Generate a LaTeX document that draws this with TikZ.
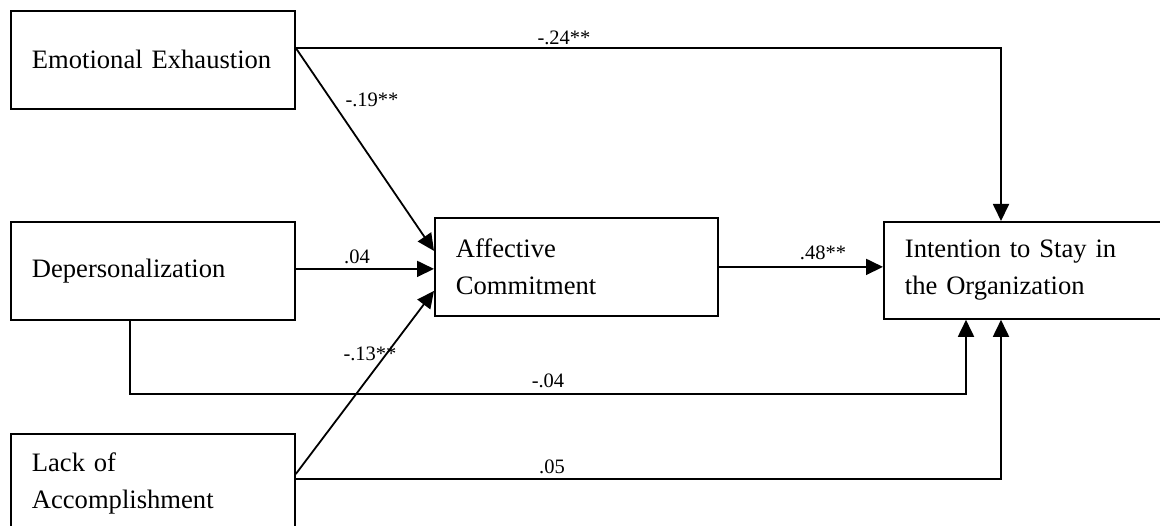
\documentclass[tikz,border=0pt]{standalone}
\usepackage{fontspec}
\setmainfont{Liberation Serif}
\usetikzlibrary{arrows.meta}
\begin{document}
\begin{tikzpicture}[x=1pt,y=-1pt,
  box/.style={draw,line width=1.8pt,rectangle,anchor=north west,inner xsep=21pt,inner ysep=0pt,
    align=left,font=\fontsize{26.6}{37}\selectfont},
  lbl/.style={inner sep=0pt,font=\fontsize{20.5}{24}\selectfont},
  conn/.style={line width=1.8pt},
  arr/.style={line width=1.8pt,-{Triangle[length=17pt,width=16pt]}}]
\useasboundingbox (0,0) rectangle (1160,526);
\clip (0,0) rectangle (1160,526);
\node[box,minimum width=284pt,minimum height=98pt,text width=242pt] (ee) at (10,10) {Emotional Exhaustion};
\node[box,minimum width=284pt,minimum height=98pt,text width=242pt] (dep) at (10,221) {Depersonalization};
\node[box,minimum width=284pt,minimum height=100pt,text width=242pt] (lack) at (10,433) {Lack of\\Accomplishment};
\node[box,minimum width=283pt,minimum height=98pt,text width=241pt] (aff) at (434,217) {Affective\\Commitment};
\node[box,minimum width=290pt,minimum height=97pt,text width=248pt] (int) at (883,221) {Intention to Stay in\\the Organization};
% connectors
\draw[arr] ([yshift=-38pt]ee.north east) -- ([yshift=16pt]aff.west);
\draw[arr] ([yshift=2pt]dep.east) -- ([yshift=2pt]dep.east -| aff.west);
\draw[arr] ([yshift=-41pt]lack.north east) -- ([yshift=-24pt]aff.west);
\draw[arr] (aff.east) -- (aff.east -| int.west);
\draw[arr] ([yshift=-38pt]ee.north east) -| ([xshift=118pt]int.north west);
\coordinate (depturn) at (130,394);
\draw[arr] ([xshift=120pt]dep.south west) -- (depturn) -| ([xshift=83pt]int.south west);
\draw[arr] ([yshift=-46pt]lack.north east) -| ([xshift=118pt]int.south west);
% labels
\node[lbl] (l24) at (564,38) {-.24**};
\node[lbl] (l19) at (372,100) {-.19**};
\node[lbl] (l04) at (357,257) {.04};
\node[lbl] (l48) at (823,253) {.48**};
\node[lbl] (l13) at (370,354) {-.13**};
\node[lbl] (lm04) at (548,381) {-.04};
\node[lbl] (l05) at (552,467) {.05};
\end{tikzpicture}
\end{document}
